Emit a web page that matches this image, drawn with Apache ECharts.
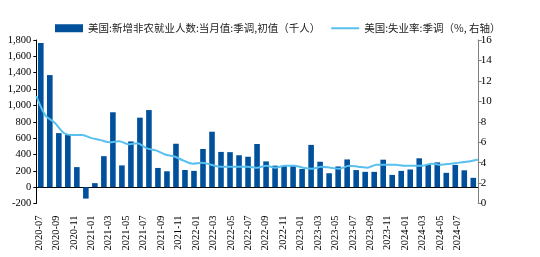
<!DOCTYPE html>
<html>
<head>
<meta charset="utf-8">
<script src="https://cdn.jsdelivr.net/npm/echarts@6/dist/echarts.min.js"></script>
<style>
  html, body { margin: 0; padding: 0; background: #fff; }
  #chart { width: 540px; height: 257px; }
</style>
</head>
<body>
<div id="chart"></div>
<script>
// 月份
var months = [
  '2020-07','2020-08','2020-09','2020-10','2020-11','2020-12',
  '2021-01','2021-02','2021-03','2021-04','2021-05','2021-06','2021-07','2021-08','2021-09','2021-10','2021-11','2021-12',
  '2022-01','2022-02','2022-03','2022-04','2022-05','2022-06','2022-07','2022-08','2022-09','2022-10','2022-11','2022-12',
  '2023-01','2023-02','2023-03','2023-04','2023-05','2023-06','2023-07','2023-08','2023-09','2023-10','2023-11','2023-12',
  '2024-01','2024-02','2024-03','2024-04','2024-05','2024-06','2024-07'
];
// 新增非农就业人数（千人）
var payrolls = [
  1763, 1371, 661, 638, 245, -140,
  49, 379, 916, 266, 559, 850, 943, 235, 194, 531, 210, 199,
  467, 678, 431, 428, 390, 372, 528, 315, 263, 261, 263, 223,
  517, 311, 170, 253, 339, 209, 187, 187, 336, 150, 199, 216,
  353, 275, 303, 175, 272, 206, 114
];
// 失业率（%）
var jobless = [
  10.5, 8.6, 7.9, 6.9, 6.7, 6.7,
  6.4, 6.2, 6.0, 6.1, 5.8, 5.9, 5.4, 5.2, 4.8, 4.6, 4.2, 3.9,
  4.0, 3.8, 3.6, 3.6, 3.6, 3.6, 3.5, 3.7, 3.5, 3.7, 3.7, 3.5,
  3.4, 3.6, 3.5, 3.4, 3.7, 3.6, 3.5, 3.8, 3.8, 3.8, 3.7, 3.7,
  3.7, 3.9, 3.8, 3.9, 4.0, 4.1, 4.3
];
var barName = '美国:新增非农就业人数:当月值:季调,初值（千人）';
var lineName = '美国:失业率:季调（%, 右轴）';

var serif = '"Liberation Serif", "Times New Roman", serif';
var cjk = '"Noto Sans CJK SC", sans-serif';

var chart = echarts.init(document.getElementById('chart'));
var option = {
  animation: false,
  legend: {
    left: 50,
    top: 18,
    itemWidth: 28,
    itemHeight: 8,
    itemGap: 10,
    textStyle: { fontFamily: cjk, fontSize: 10.5, color: '#222' },
    data: [
      { name: barName, icon: 'rect' },
      { name: lineName, itemStyle: { color: 'rgba(0,0,0,0)', borderWidth: 0 } }
    ]
  },
  grid: [
    { left: 36.3, right: 62.2, top: 40, bottom: 53.5 },
    { left: 34.6, width: 427.2, top: 40, bottom: 53.5 }
  ],
  xAxis: [
    {
      type: 'category', gridIndex: 0, data: months, boundaryGap: true,
      axisLine: { onZero: true, onZeroAxisIndex: 0, lineStyle: { color: '#000', width: 1 } },
      axisTick: { interval: 1, length: 4, lineStyle: { color: '#000' } },
      axisLabel: { show: false },
      splitLine: { show: false }
    },
    {
      type: 'category', gridIndex: 0, data: months, boundaryGap: false, show: false
    },
    {
      type: 'category', gridIndex: 1, data: months, boundaryGap: true,
      axisLine: { show: false, onZero: false },
      axisTick: { show: false },
      axisLabel: { interval: 1, rotate: 90, margin: 12, fontFamily: serif, fontSize: 10.5, color: '#000' },
      splitLine: { show: false }
    }
  ],
  yAxis: [
    {
      type: 'value', gridIndex: 0, min: -200, max: 1800, interval: 200,
      axisLine: { show: true, lineStyle: { color: '#000' } },
      axisTick: { show: true, length: 3, lineStyle: { color: '#000' } },
      axisLabel: { margin: 5, fontFamily: serif, fontSize: 10.5, color: '#000' },
      splitLine: { show: false }
    },
    {
      type: 'value', gridIndex: 0, position: 'right', min: 0, max: 16, interval: 2,
      axisLine: { show: true, lineStyle: { color: '#808080' } },
      axisTick: { show: true, length: 4, lineStyle: { color: '#808080' } },
      axisLabel: { margin: 3, fontFamily: serif, fontSize: 11, color: '#000' },
      splitLine: { show: false }
    },
    { type: 'value', gridIndex: 1, show: false, min: -200, max: 1800 }
  ],
  series: [
    {
      name: barName, type: 'bar', xAxisIndex: 0, yAxisIndex: 0,
      data: payrolls, barWidth: '62%',
      itemStyle: { color: '#00509b' }
    },
    {
      name: lineName, type: 'line', xAxisIndex: 1, yAxisIndex: 1,
      data: jobless, symbol: 'none', smooth: 0.3,
      lineStyle: { color: '#58c0ef', width: 2 },
      itemStyle: { color: '#58c0ef' }
    }
  ]
};
chart.setOption(option);
</script>
</body>
</html>
